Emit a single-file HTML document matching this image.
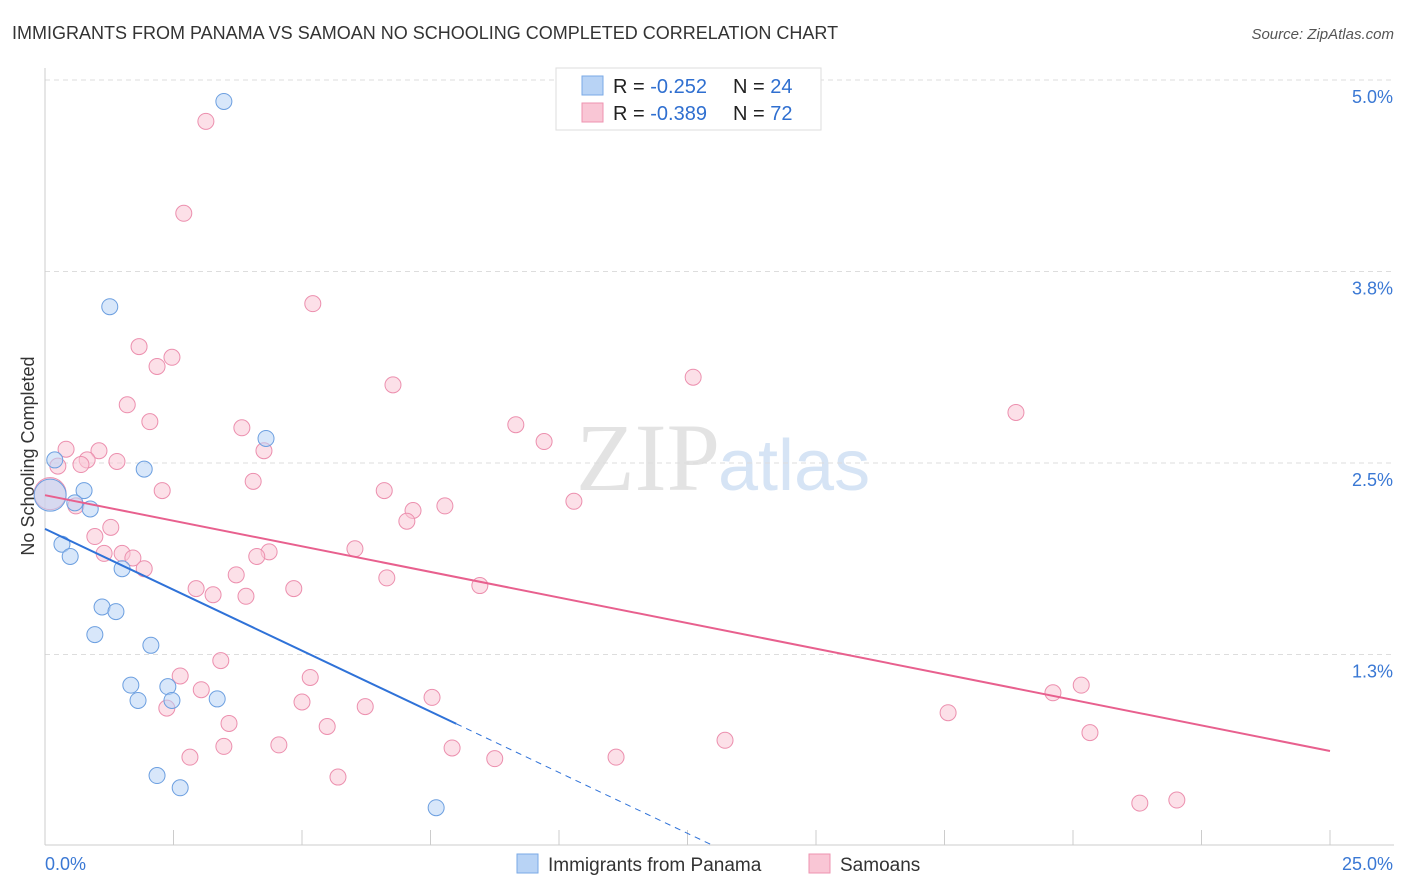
<!DOCTYPE html>
<html><head><meta charset="utf-8"><style>
body{margin:0;background:#fff;font-family:"Liberation Sans",sans-serif;}
#wrap{position:relative;width:1406px;height:892px;overflow:hidden;}
</style></head><body>
<div id="wrap">
<svg id="svg" width="1406" height="892">
<text x="12" y="39" font-size="18" fill="#333">IMMIGRANTS FROM PANAMA VS SAMOAN NO SCHOOLING COMPLETED CORRELATION CHART</text>
<text x="1394" y="39" font-size="15" fill="#555" font-style="italic" text-anchor="end">Source: ZipAtlas.com</text>
<text x="34" y="456" font-size="18" fill="#333" text-anchor="middle" transform="rotate(-90 34 456)">No Schooling Completed</text>
<text x="720" y="490" font-size="96" fill="#e3e3e3" text-anchor="end" font-family="Liberation Serif,serif">ZIP</text>
<text x="718" y="490" font-size="72" fill="#d6e4f5">atlas</text>
<g id="grid"></g><g id="marks"></g>
<g>
<rect x="556" y="68" width="265" height="62" fill="#fff" stroke="#ddd"/>
<rect x="582" y="76" width="21" height="19" fill="#b8d3f5" stroke="#7aa9e6"/>
<rect x="582" y="103" width="21" height="19" fill="#f9c6d5" stroke="#ee93b0"/>
<text x="613" y="93" font-size="20" fill="#222">R = <tspan fill="#2f6fd0">-0.252</tspan><tspan x="733">N = </tspan><tspan fill="#2f6fd0">24</tspan></text>
<text x="613" y="120" font-size="20" fill="#222">R = <tspan fill="#2f6fd0">-0.389</tspan><tspan x="733">N = </tspan><tspan fill="#2f6fd0">72</tspan></text>
</g>
<g>
<rect x="517" y="854" width="21" height="19" fill="#b8d3f5" stroke="#7aa9e6"/>
<text x="548" y="871" font-size="19" fill="#333">Immigrants from Panama</text>
<rect x="809" y="854" width="21" height="19" fill="#f9c6d5" stroke="#ee93b0"/>
<text x="840" y="871" font-size="19" fill="#333">Samoans</text>
</g>
</svg></div>
<script>
const yTicks=[5.0,3.75,2.5,1.25];
const yTickLabels=["5.0%","3.8%","2.5%","1.3%"];
const xTickLabels=["0.0%","25.0%"];
const panamaX=[3.48,1.26,4.30,1.93,0.19,0.76,0.58,0.88,0.33,0.49,1.50,1.11,1.38,0.97,2.06,1.67,2.39,1.81,2.47,3.35,2.18,2.63,7.61,0.10];
const panamaY=[4.86,3.52,2.66,2.46,2.52,2.32,2.24,2.20,1.97,1.89,1.81,1.56,1.53,1.38,1.31,1.05,1.04,0.95,0.95,0.96,0.46,0.38,0.25,2.29];
const samoanX=[3.13,2.70,5.21,1.83,2.47,2.18,6.77,12.61,1.60,2.04,18.89,3.83,9.16,9.71,0.41,1.05,4.26,0.82,1.40,0.70,0.25,4.05,2.28,6.60,7.78,10.29,7.16,7.04,0.60,1.28,0.97,6.03,4.36,4.12,1.50,1.15,1.71,1.93,3.72,6.65,8.46,2.94,4.84,3.27,3.91,3.42,2.63,5.16,3.04,7.53,5.00,6.23,2.37,17.57,19.61,20.16,3.58,5.49,13.23,20.33,3.48,4.55,7.92,2.82,8.75,11.11,5.70,21.30,22.02,0.10];
const samoanY=[4.73,4.13,3.54,3.26,3.19,3.13,3.01,3.06,2.88,2.77,2.83,2.73,2.75,2.64,2.59,2.58,2.58,2.52,2.51,2.49,2.48,2.38,2.32,2.32,2.22,2.25,2.19,2.12,2.22,2.08,2.02,1.94,1.92,1.89,1.91,1.91,1.88,1.81,1.77,1.75,1.70,1.68,1.68,1.64,1.63,1.21,1.11,1.10,1.02,0.97,0.94,0.91,0.90,0.87,1.00,1.05,0.80,0.78,0.69,0.74,0.65,0.66,0.64,0.58,0.57,0.58,0.45,0.28,0.30,2.30];
const panamaTrend=[2.07,-0.159]; // intercept, slope
const samoanTrend=[2.29,-0.0668];
const X=v=>45+v*51.4, Y=v=>80+(5-v)*153.2;
const NS="http://www.w3.org/2000/svg";
function mk(t,a,p){const e=document.createElementNS(NS,t);for(const k in a)e.setAttribute(k,a[k]);p.appendChild(e);return e;}
const g=document.getElementById('grid'), m=document.getElementById('marks');
yTicks.forEach((t,i)=>{
 const l=mk('line',{x1:45,x2:1394,y1:Y(t),y2:Y(t),stroke:'#ddd','stroke-dasharray':'5,4'},g);
 
 
 const tx=mk('text',{x:1393,y:Y(t)+23,'font-size':18,fill:'#3a78d4','text-anchor':'end'},g);
 tx.textContent=yTickLabels[i];
 
 
});
const ax=mk('line',{x1:45,x2:45,y1:68,y2:845,stroke:'#ccc'},g);


const bx=mk('line',{x1:45,x2:1394,y1:845,y2:845,stroke:'#ccc'},g);


for(let i=1;i<=10;i++){
 const t=mk('line',{x1:X(i*2.5),x2:X(i*2.5),y1:830,y2:845,stroke:'#ccc'},g);
 
 
}
[[0,45,'start'],[25,1393,'end']].forEach((d,i)=>{
 const tx=mk('text',{x:d[1],y:870,'font-size':18,fill:'#3a78d4','text-anchor':d[2]},g);
 tx.textContent=xTickLabels[i];
 
 
});
function pts(xs,ys,fill,stroke,name){
 xs.forEach((x,i)=>{
  const big=i===xs.length-1;
  const c=mk('circle',{cx:X(x),cy:Y(ys[i]),r:big?16:8,fill:fill,'fill-opacity':0.55,stroke:stroke,'stroke-width':1},m);
  
  
 });
}
pts(samoanX,samoanY,'#f9c6d5','#ec8fae','samoan-point');
pts(panamaX,panamaY,'#b8d3f5','#6c9fe0','panama-point');
const pl=mk('line',{x1:X(0),y1:Y(samoanTrend[0]),x2:X(25),y2:Y(samoanTrend[0]+25*samoanTrend[1]),stroke:'#e8608e','stroke-width':2},m);


const bl=mk('line',{x1:X(0),y1:Y(panamaTrend[0]),x2:X(8),y2:Y(panamaTrend[0]+8*panamaTrend[1]),stroke:'#2f72d8','stroke-width':2},m);


const xe=-panamaTrend[0]/panamaTrend[1];
const bd=mk('line',{x1:X(8),y1:Y(panamaTrend[0]+8*panamaTrend[1]),x2:X(xe),y2:Y(0),stroke:'#2f72d8','stroke-width':1,'stroke-dasharray':'6,5'},m);


</script>
</body></html>
